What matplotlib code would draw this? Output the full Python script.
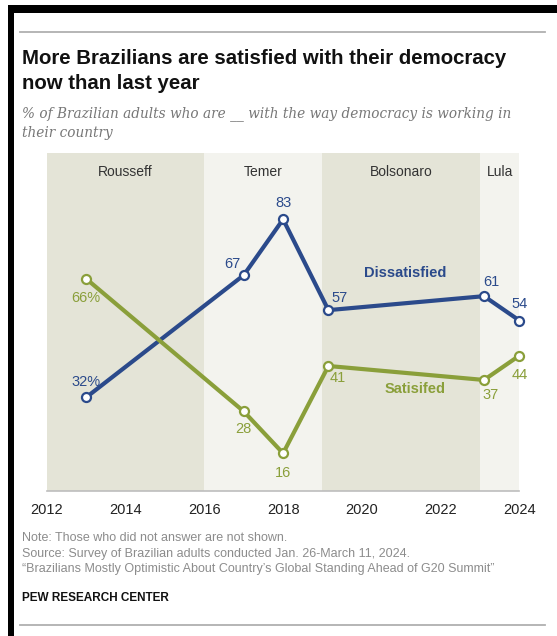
import matplotlib.pyplot as plt
from matplotlib.lines import Line2D
from matplotlib.patches import Rectangle

# survey points (year position on the axis)
years = [2013, 2017, 2018, 2019.15, 2023.1, 2024]
dissatisfied = [32, 67, 83, 57, 61, 54]
satisfied = [66, 28, 16, 41, 37, 44]

# presidencies
presidents = ['Rousseff', 'Temer', 'Bolsonaro', 'Lula']
term_edges = [2012, 2016, 2019, 2023, 2024]

xticks = [2012, 2014, 2016, 2018, 2020, 2022, 2024]

blue = '#2b4a8b'
green = '#8a9f3a'
band_dark = '#e4e4d7'
band_light = '#f3f3ee'
grey = '#8c8c8c'

W, H = 557, 636
fig = plt.figure(figsize=(W / 100, H / 100), dpi=100)
fig.patch.set_facecolor('white')


def fx(px):
    return px / W


def fy(py):
    return 1 - py / H


ax = fig.add_axes([fx(46.7), fy(491), fx(519.5) - fx(46.7), fy(153) - fy(491)])
ax.set_xlim(2012, 2024)
ax.set_ylim(5.2, 102)

# shaded bands for each presidency
for i, name in enumerate(presidents):
    col = band_dark if i % 2 == 0 else band_light
    ax.axvspan(term_edges[i], term_edges[i + 1], color=col, lw=0, zorder=0)
    mid = (term_edges[i] + term_edges[i + 1]) / 2
    ax.text(mid, 96.5, name, ha='center', va='center', fontsize=10,
            color='#333333', family='Liberation Sans')

ax.plot(years, dissatisfied, color=blue, lw=3, marker='o', ms=6.5,
        mfc='white', mec=blue, mew=1.6, zorder=3, clip_on=False)
ax.plot(years, satisfied, color=green, lw=3, marker='o', ms=6.5,
        mfc='white', mec=green, mew=1.6, zorder=4, clip_on=False)

# value labels (offsets in points)
d_off = [(0, 11), (-8, 8), (0, 12), (8, 9), (5, 10), (0, 12)]
s_off = [(0, -14), (0, -13), (0, -14), (7, -9), (5, -11), (0, -14)]
for i in range(len(years)):
    dl = f'{dissatisfied[i]}%' if i == 0 else str(dissatisfied[i])
    sl = f'{satisfied[i]}%' if i == 0 else str(satisfied[i])
    ax.annotate(dl, (years[i], dissatisfied[i]), xytext=d_off[i],
                textcoords='offset points', ha='center', va='center',
                fontsize=10.5, color=blue, family='Liberation Sans')
    ax.annotate(sl, (years[i], satisfied[i]), xytext=s_off[i],
                textcoords='offset points', ha='center', va='center',
                fontsize=10.5, color=green, family='Liberation Sans')

ax.text(2021.1, 67.5, 'Dissatisfied', ha='center', va='center', fontsize=10.5,
        fontweight='bold', color=blue, family='Liberation Sans')
ax.text(2021.35, 34.3, 'Satisifed', ha='center', va='center', fontsize=10.5,
        fontweight='bold', color=green, family='Liberation Sans')

for s in ['top', 'left', 'right']:
    ax.spines[s].set_visible(False)
ax.spines['bottom'].set_color('#bdbdbd')
ax.spines['bottom'].set_linewidth(1.2)
ax.set_yticks([])
ax.set_xticks(xticks)
ax.set_xticklabels([str(t) for t in xticks], fontsize=10.5, color='#222222',
                   family='Liberation Sans')
ax.tick_params(axis='x', length=0, pad=9)

# titles
fig.text(fx(22), fy(71), 'More Brazilians are satisfied with their democracy\nnow than last year',
         ha='left', va='center', fontsize=14.7, fontweight='bold', color='#111111',
         family='Liberation Sans', linespacing=1.45)
fig.text(fx(22), fy(123), '% of Brazilian adults who are __ with the way democracy is working in\ntheir country',
         ha='left', va='center', fontsize=9.85, style='italic', color='#777777',
         family='DejaVu Serif', linespacing=1.5)

# footer
foot = ['Note: Those who did not answer are not shown.',
        'Source: Survey of Brazilian adults conducted Jan. 26-March 11, 2024.',
        '\u201cBrazilians Mostly Optimistic About Country\u2019s Global Standing Ahead of G20 Summit\u201d']
for k, line in enumerate(foot):
    fig.text(fx(22), fy(538 + 15.5 * k), line, ha='left', va='center',
             fontsize=9, color=grey, family='Liberation Sans')
fig.text(fx(22), fy(598), 'PEW RESEARCH CENTER', ha='left', va='center',
         fontsize=8.5, fontweight='bold', color='#111111', family='Liberation Sans')

# rules and frame
fig.add_artist(Line2D([fx(20), fx(545)], [fy(31.5), fy(31.5)], color='#b0b0b0', lw=1.3))
fig.add_artist(Line2D([fx(20), fx(545)], [fy(625), fy(625)], color='#b0b0b0', lw=1.3))
fig.add_artist(Rectangle((fx(8), fy(12.5)), 1 - fx(8), fy(5) - fy(12.5),
                         transform=fig.transFigure, color='black', lw=0))
fig.add_artist(Rectangle((fx(8), 0), fx(14) - fx(8), fy(5),
                         transform=fig.transFigure, color='black', lw=0))

fig.savefig('out.png', dpi=100)
